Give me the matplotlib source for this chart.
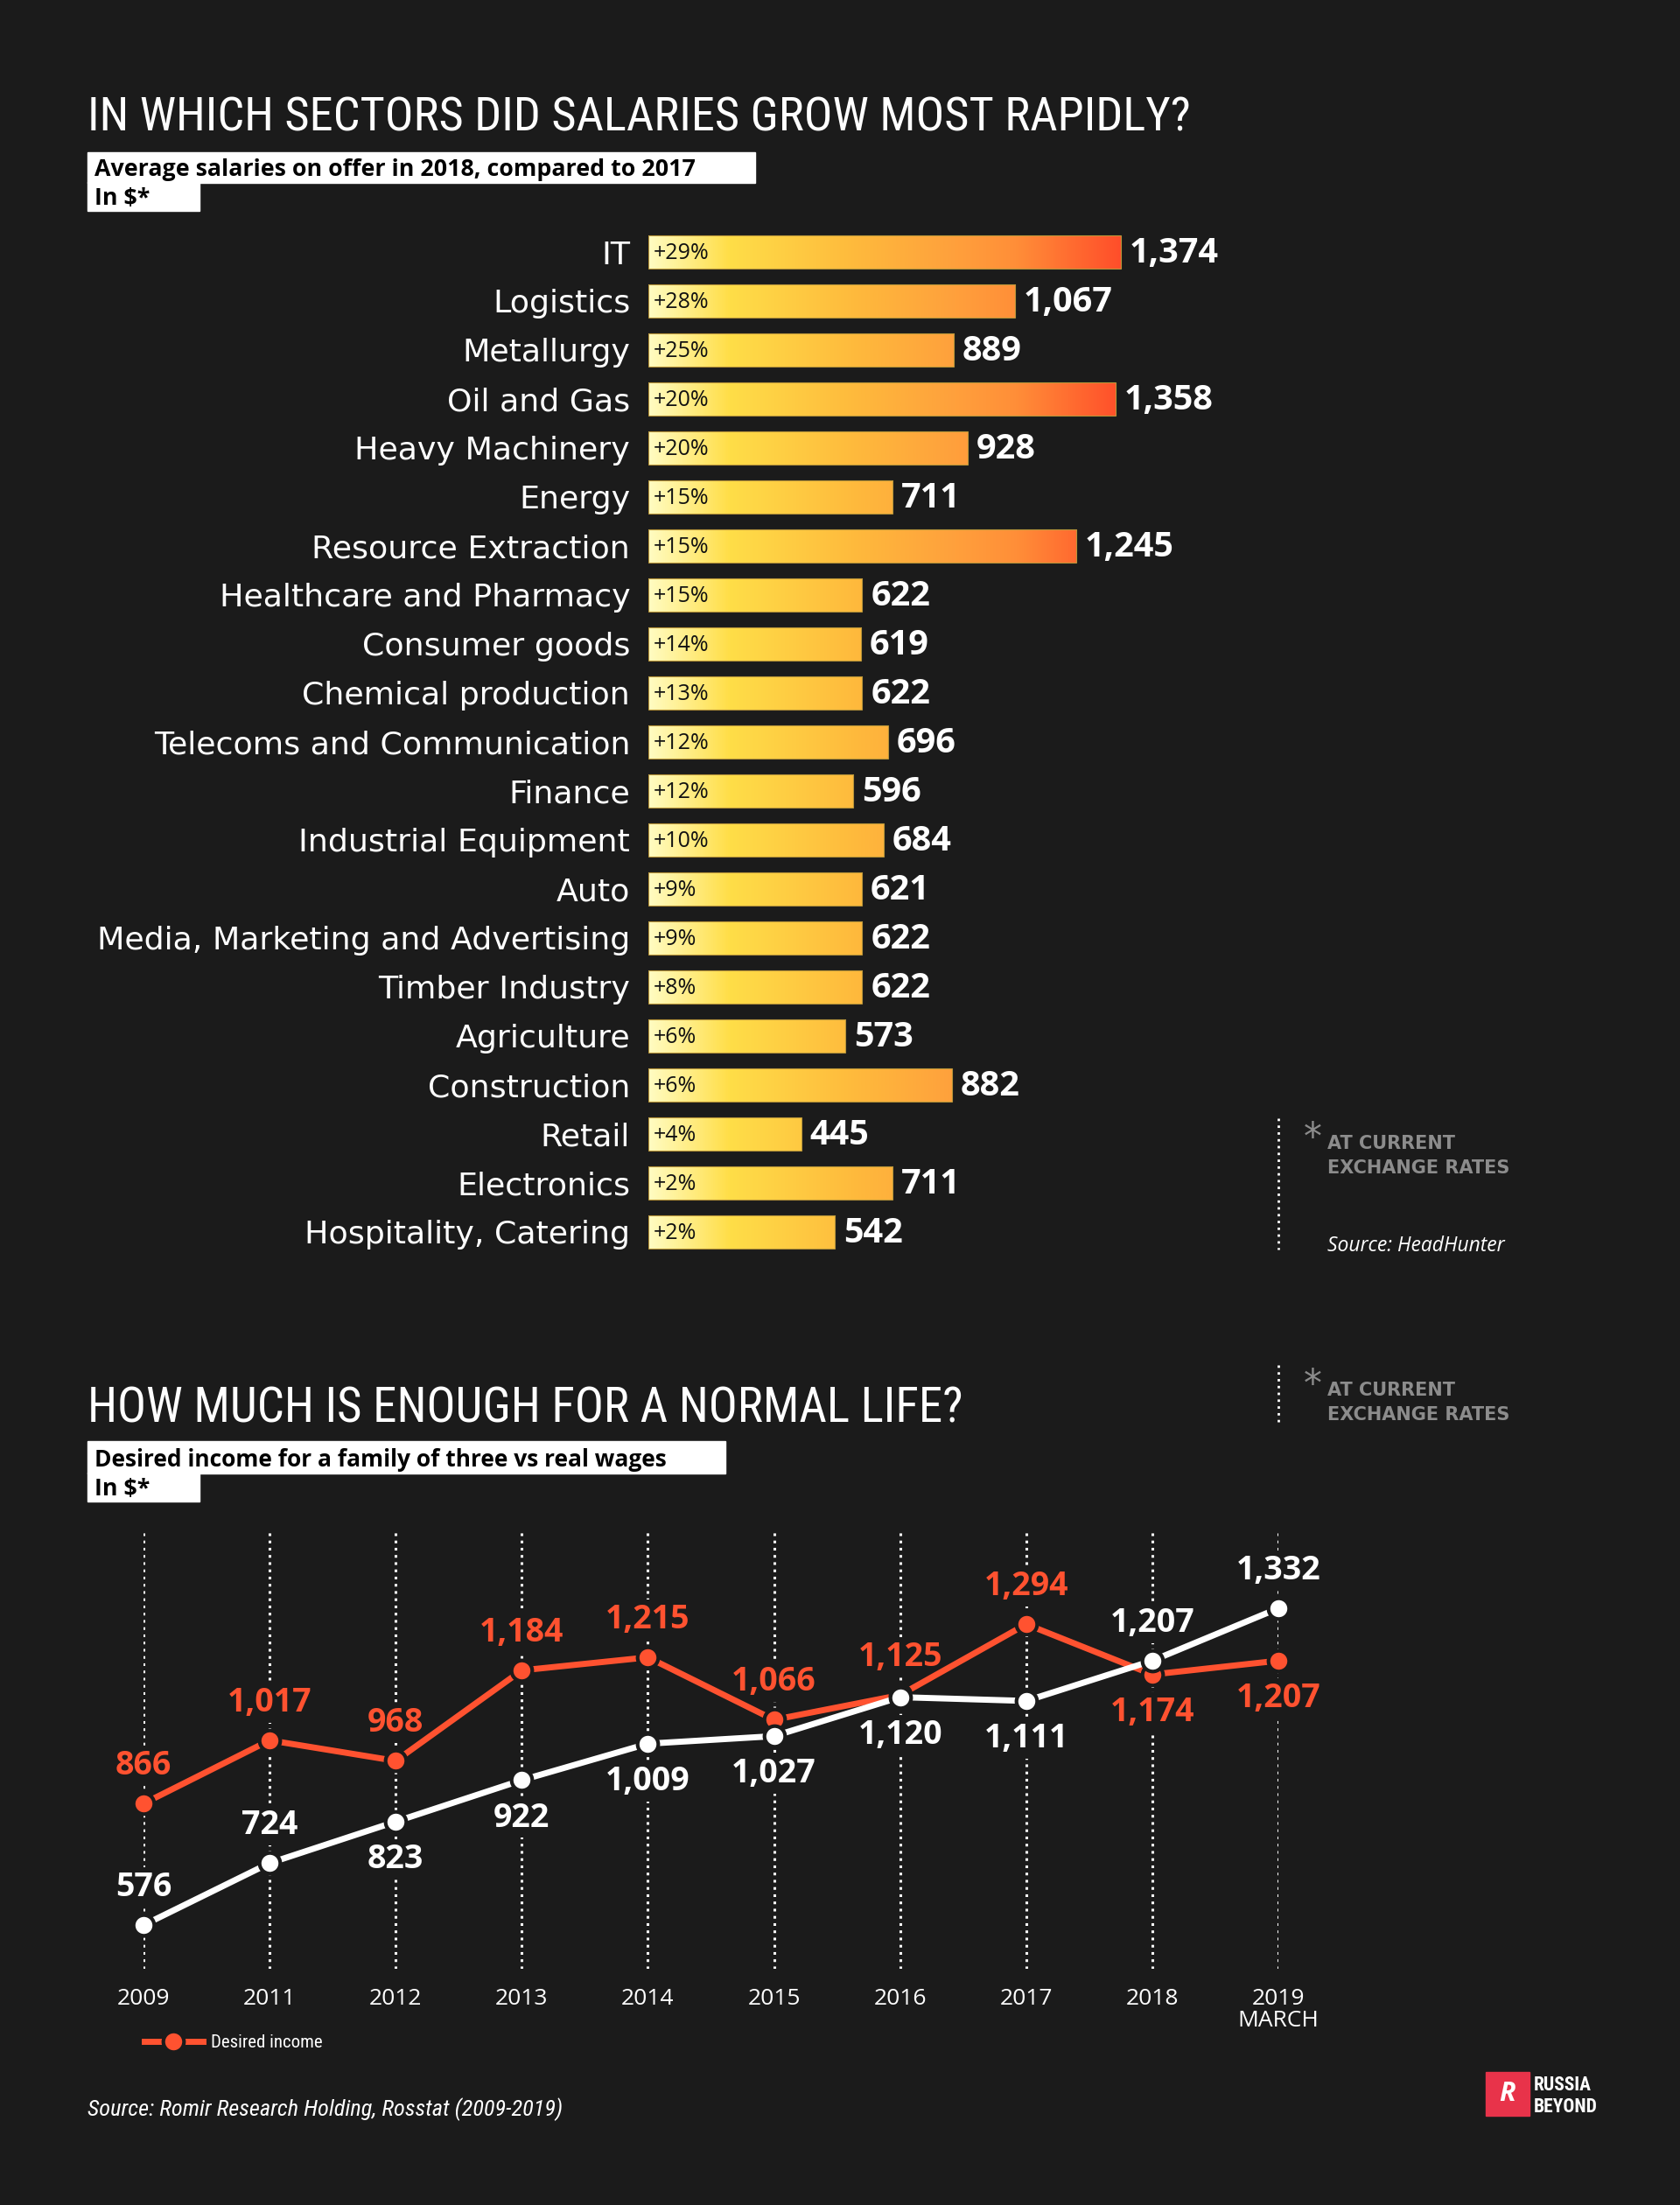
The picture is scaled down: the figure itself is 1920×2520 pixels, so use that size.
import numpy as np
import matplotlib
matplotlib.use('Agg')
import matplotlib.pyplot as plt
from matplotlib import font_manager
from matplotlib.colors import LinearSegmentedColormap
from matplotlib.patches import Rectangle
from matplotlib.lines import Line2D

# ---- data ----
sectors = ['IT', 'Logistics', 'Metallurgy', 'Oil and Gas', 'Heavy Machinery', 'Energy',
           'Resource Extraction', 'Healthcare and Pharmacy', 'Consumer goods',
           'Chemical production', 'Telecoms and Communication', 'Finance',
           'Industrial Equipment', 'Auto', 'Media, Marketing and Advertising',
           'Timber Industry', 'Agriculture', 'Construction', 'Retail', 'Electronics',
           'Hospitality, Catering']
growth = [29, 28, 25, 20, 20, 15, 15, 15, 14, 13, 12, 12, 10, 9, 9, 8, 6, 6, 4, 2, 2]
salary_2018 = [1374, 1067, 889, 1358, 928, 711, 1245, 622, 619, 622, 696, 596, 684,
               621, 622, 622, 573, 882, 445, 711, 542]

years = ['2009', '2011', '2012', '2013', '2014', '2015', '2016', '2017', '2018', '2019\nMARCH']
desired_income = [866, 1017, 968, 1184, 1215, 1066, 1125, 1294, 1174, 1207]
real_wages = [576, 724, 823, 922, 1009, 1027, 1120, 1111, 1207, 1332]
desired_above = [True, True, True, True, True, True, True, True, False, False]
real_above = [True, True, False, False, False, False, False, False, True, True]

# ---- look ----
W, H = 1920, 2520
BG = '#1b1b1b'
ORANGE = '#ff5230'
GREY = '#8c8c8c'

names = {f.name for f in font_manager.fontManager.ttflist}


def pick(*cands):
    for c in cands:
        if c in names:
            return c
    return 'DejaVu Sans'


NARROW = pick('Liberation Sans Narrow', 'Roboto Condensed', 'Open Sans Condensed', 'DejaVu Sans Condensed')
SANS = pick('Open Sans', 'Noto Sans', 'DejaVu Sans')
WIDE = 'DejaVu Sans'

fig = plt.figure(figsize=(W / 100, H / 100), dpi=100, facecolor=BG)


def px_axes(x0, y0, x1, y1):
    return fig.add_axes([x0 / W, 1 - y1 / H, (x1 - x0) / W, (y1 - y0) / H])


# overlay in pixel coordinates for titles, boxes and notes
ov = px_axes(0, 0, W, H)
ov.set_xlim(0, W)
ov.set_ylim(H, 0)
ov.axis('off')

# titles and subtitle boxes
ov.text(100, 149, 'IN WHICH SECTORS DID SALARIES GROW MOST RAPIDLY?', color='white',
        fontsize=39.2, family=NARROW, va='baseline')
ov.add_patch(Rectangle((100, 174), 763, 35, color='white'))
ov.add_patch(Rectangle((100, 208), 128, 33, color='white'))
ov.text(108, 201, 'Average salaries on offer in 2018, compared to 2017', fontsize=19.3,
        family=SANS, weight='bold', color='black', va='baseline')
ov.text(108, 234, 'In $*', fontsize=19.3, family=SANS, weight='bold', color='black', va='baseline')

ov.text(100, 1626, 'HOW MUCH IS ENOUGH FOR A NORMAL LIFE?', color='white',
        fontsize=39.5, family=NARROW, va='baseline')
ov.add_patch(Rectangle((100, 1647), 729, 37, color='white'))
ov.add_patch(Rectangle((100, 1683), 128, 33, color='white'))
ov.text(108, 1676, 'Desired income for a family of three vs real wages', fontsize=19,
        family=SANS, weight='bold', color='black', va='baseline')
ov.text(108, 1709, 'In $*', fontsize=19.3, family=SANS, weight='bold', color='black', va='baseline')

# footnotes
for top, bot, base, src in [(1278, 1428, 1313, True), (1560, 1625, 1595, False)]:
    ov.add_line(Line2D([1461, 1461], [top, bot], color='white', lw=2, dashes=(1, 1.8)))
    ov.text(1500, base - 12, '*', color=GREY, fontsize=30, family=WIDE, ha='center', va='center')
    ov.text(1517, base, 'AT CURRENT', color=GREY, fontsize=15, family=WIDE, weight='bold', va='baseline')
    ov.text(1517, base + 28, 'EXCHANGE RATES', color=GREY, fontsize=15, family=WIDE, weight='bold',
            va='baseline')
    if src:
        ov.text(1517, 1430, 'Source: HeadHunter', color='white', fontsize=16.5, family=SANS,
                style='italic', va='baseline')

ov.text(100, 2418, 'Source: Romir Research Holding, Rosstat (2009-2019)', color='white',
        fontsize=19, family=NARROW, style='italic', va='baseline')

# logo
ov.add_patch(Rectangle((1698, 2368), 50, 50, color='#e8334a'))
ov.text(1723, 2393, 'R', color='white', fontsize=22, family=SANS, weight='bold', style='italic',
        ha='center', va='center')
ov.text(1753, 2389, 'RUSSIA', color='white', fontsize=15.5, family=NARROW, weight='bold', va='baseline')
ov.text(1753, 2414, 'BEYOND', color='white', fontsize=15.5, family=NARROW, weight='bold', va='baseline')

# ---- bar chart ----
px_per_unit = 0.393
ax = px_axes(741, 260, 1461, 1436)
ax.set_facecolor('none')
cmap = LinearSegmentedColormap.from_list('sal', [
    (0.0, '#fffcc2'), (0.17, '#ffde48'), (0.45, '#feb83c'), (0.65, '#ffa03c'),
    (0.78, '#ff8e38'), (1.0, '#ff4e2a')])
grad = np.linspace(0, 1, 512).reshape(1, -1)
gmax = max(salary_2018)
n = len(sectors)
for i, v in enumerate(salary_2018):
    bar = ax.barh(i, v, height=0.69, color='none', edgecolor='#b8953a', lw=0.8, zorder=3)[0]
    im = ax.imshow(grad, extent=(0, gmax, n - 0.5, -0.5), cmap=cmap, aspect='auto',
                   interpolation='bilinear', zorder=2)
    im.set_clip_path(bar)
    ax.annotate(f'+{growth[i]}%', (0, i), xytext=(4, -1), textcoords='offset points',
                ha='left', va='center', fontsize=18, family=SANS, color='#111111', zorder=4)
    ax.annotate(f'{v:,}', (v, i), xytext=(7, -1), textcoords='offset points',
                ha='left', va='center', fontsize=28.5, family=SANS, weight='bold', color='white')

ax.set_xlim(0, 720 / px_per_unit)
ax.set_ylim(n - 0.5, -0.5)
ax.set_yticks(range(n), sectors)
ax.set_xticks([])
ax.tick_params(axis='y', length=0, pad=15, labelsize=26.2, labelcolor='white')
for lbl in ax.get_yticklabels():
    lbl.set_family(WIDE)
for s in ax.spines.values():
    s.set_visible(False)

# ---- line chart ----
lx = px_axes(164, 1748, 1461, 2250)
lx.set_facecolor('none')
xs = np.arange(len(years))
for x in xs:
    lx.axvline(x, color='white', lw=2.2, dashes=(1, 1.7), zorder=1)

orange_line, = lx.plot(xs, desired_income, color=ORANGE, lw=5, marker='o', markersize=17,
                       markeredgecolor=BG, markeredgewidth=3, zorder=3, clip_on=False,
                       label='Desired income')
lx.plot(xs, real_wages, color='white', lw=5, marker='o', markersize=17,
        markeredgecolor=BG, markeredgewidth=3, zorder=4, clip_on=False)

lab_kw = dict(textcoords='offset points', ha='center', va='center', fontsize=27,
              family=SANS, weight='bold', zorder=2,
              bbox=dict(boxstyle='square,pad=0.1', fc=BG, ec='none'))
for x, v, up in zip(xs, desired_income, desired_above):
    lx.annotate(f'{v:,}', (x, v), xytext=(0, 31 if up else -31), color=ORANGE, **lab_kw)
for x, v, up in zip(xs, real_wages, real_above):
    lx.annotate(f'{v:,}', (x, v), xytext=(0, 31 if up else -31), color='white', **lab_kw)

lx.set_xlim(0, len(years) - 1)
lx.set_ylim(472, 1520)
lx.set_yticks([])
lx.set_xticks(xs, years)
lx.tick_params(axis='x', length=0, pad=16, labelsize=19, labelcolor='white')
for lbl in lx.get_xticklabels():
    lbl.set_family(SANS)
    lbl.set_linespacing(1.0)
for s in lx.spines.values():
    s.set_visible(False)

lx.legend(handles=[orange_line], loc='center left', bbox_to_anchor=(165 / W, 1 - 2335 / H),
          bbox_transform=fig.transFigure, frameon=False, borderpad=0, borderaxespad=0,
          handlelength=3.2, handletextpad=0.45, markerscale=1.0,
          prop={'family': NARROW, 'size': 15}, labelcolor='white')

fig.savefig('out.png', dpi=100, facecolor=BG)
